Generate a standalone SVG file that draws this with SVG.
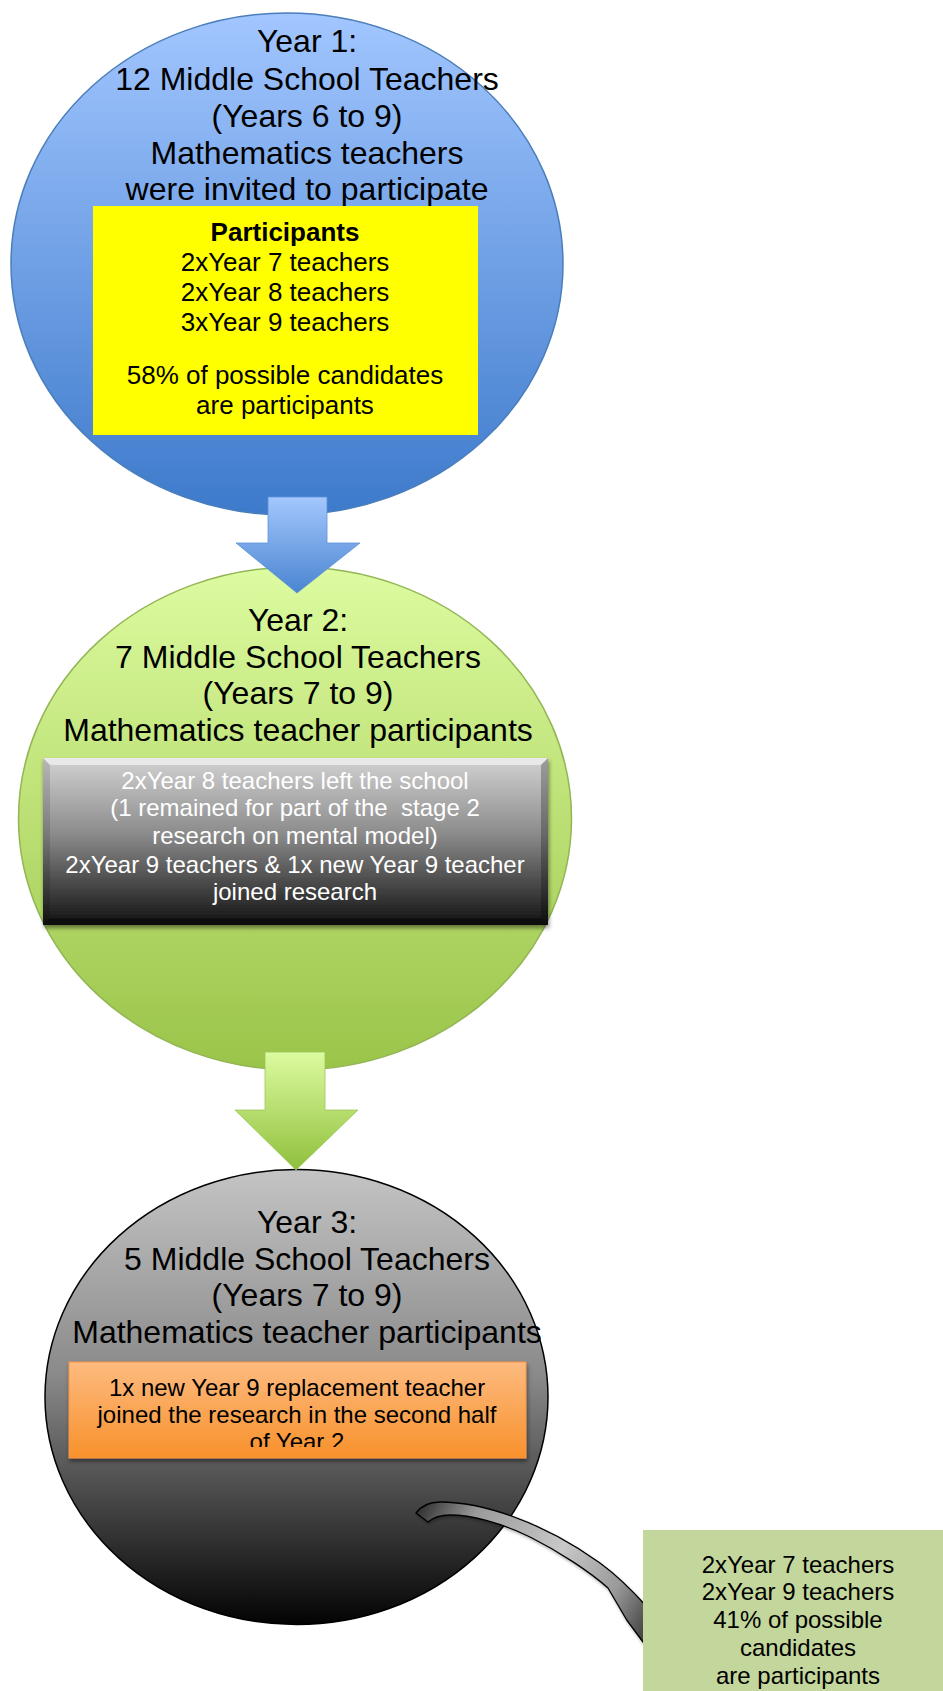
<svg xmlns="http://www.w3.org/2000/svg" width="943" height="1691" viewBox="0 0 943 1691">
<defs>
<style>
text{font-family:"Liberation Sans",Arial,sans-serif;text-anchor:middle}
.t{font-size:32px;fill:#000}
.s{font-size:26px;fill:#000}
.m{font-size:24px}
</style>
<linearGradient id="gBlue" x1="0" y1="0" x2="0" y2="1"><stop offset="0" stop-color="#a2c6ff"/><stop offset="1" stop-color="#3d7acb"/></linearGradient>
<linearGradient id="gGreen" x1="0" y1="0" x2="0" y2="1"><stop offset="0" stop-color="#ddfba0"/><stop offset="1" stop-color="#9ac449"/></linearGradient>
<linearGradient id="gGray" x1="0" y1="0" x2="0" y2="1"><stop offset="0" stop-color="#c4c4c4"/><stop offset="0.45" stop-color="#8a8a8a"/><stop offset="1" stop-color="#030303"/></linearGradient>
<linearGradient id="gBox" x1="0" y1="0" x2="0" y2="1"><stop offset="0" stop-color="#d2d2d2"/><stop offset="0.45" stop-color="#8c8c8c"/><stop offset="1" stop-color="#121212"/></linearGradient>
<linearGradient id="gOrange" x1="0" y1="0" x2="0" y2="1"><stop offset="0" stop-color="#fdbb80"/><stop offset="1" stop-color="#f8912c"/></linearGradient>
<linearGradient id="gArrB" x1="0" y1="0" x2="0" y2="1"><stop offset="0" stop-color="#a3c7fd"/><stop offset="1" stop-color="#4a85d1"/></linearGradient>
<linearGradient id="gArrG" x1="0" y1="0" x2="0" y2="1"><stop offset="0" stop-color="#ddfba0"/><stop offset="1" stop-color="#8fc03c"/></linearGradient>
<linearGradient id="gBand" gradientUnits="userSpaceOnUse" x1="416" y1="1510" x2="648" y2="1640"><stop offset="0" stop-color="#2e2e2e"/><stop offset="0.2" stop-color="#9a9a9a"/><stop offset="0.55" stop-color="#c8c8c8"/><stop offset="0.8" stop-color="#9a9a9a"/><stop offset="1" stop-color="#3a3a3a"/></linearGradient>
<filter id="sh" x="-10%" y="-20%" width="120%" height="150%"><feDropShadow dx="1" dy="3" stdDeviation="2" flood-color="#000" flood-opacity="0.45"/></filter>
<filter id="sh2" x="-10%" y="-20%" width="120%" height="150%"><feDropShadow dx="1" dy="2" stdDeviation="1.5" flood-color="#000" flood-opacity="0.3"/></filter>
<clipPath id="clipO"><rect x="69" y="1362" width="457" height="85"/></clipPath>
</defs>

<g id="year1">
<ellipse cx="287" cy="264" rx="276" ry="251" fill="url(#gBlue)" stroke="#4a7ebb" stroke-width="1.5"/>
<text class="t" x="307" y="52">Year 1:</text>
<text class="t" x="307" y="90">12 Middle School Teachers</text>
<text class="t" x="307" y="127">(Years 6 to 9)</text>
<text class="t" x="307" y="164">Mathematics teachers</text>
<text class="t" x="307" y="200">were invited to participate</text>
</g>
<g id="participants1">
<rect x="93" y="206" width="385" height="229" fill="#ffff00"/>
<text class="s" x="285" y="241" font-weight="bold">Participants</text>
<text class="s" x="285" y="271">2xYear 7 teachers</text>
<text class="s" x="285" y="301">2xYear 8 teachers</text>
<text class="s" x="285" y="331">3xYear 9 teachers</text>
<text class="s" x="285" y="384">58% of possible candidates</text>
<text class="s" x="285" y="414">are participants</text>
</g>

<g id="year2">
<ellipse cx="295" cy="818.5" rx="276.5" ry="251.5" fill="url(#gGreen)" stroke="#93b654" stroke-width="1.5"/>
<text class="t" x="298" y="631">Year 2:</text>
<text class="t" x="298" y="668">7 Middle School Teachers</text>
<text class="t" x="298" y="704">(Years 7 to 9)</text>
<text class="t" x="298" y="741">Mathematics teacher participants</text>
</g>
<g id="changes2">
<rect x="43" y="758" width="505" height="167" fill="url(#gBox)" filter="url(#sh)"/>
<polygon points="43,758 548,758 541,765 50,765" fill="#fff" opacity="0.55"/>
<polygon points="43,758 50,765 50,918 43,925" fill="#000" opacity="0.12"/>
<polygon points="548,758 541,765 541,918 548,925" fill="#000" opacity="0.25"/>
<polygon points="43,925 50,918 541,918 548,925" fill="#000" opacity="0.4"/>
<g class="m" fill="#fff">
<text x="295" y="789">2xYear 8 teachers left the school</text>
<text x="295" y="816" style="white-space:pre">(1 remained for part of the  stage 2</text>
<text x="295" y="844">research on mental model)</text>
<text x="295" y="873">2xYear 9 teachers &amp; 1x new Year 9 teacher</text>
<text x="295" y="900">joined research</text>
</g>
</g>

<g id="year3">
<ellipse cx="296.5" cy="1397" rx="251.5" ry="227.5" fill="url(#gGray)" stroke="#000" stroke-width="1.5"/>
<text class="t" x="307" y="1233">Year 3:</text>
<text class="t" x="307" y="1270">5 Middle School Teachers</text>
<text class="t" x="307" y="1306">(Years 7 to 9)</text>
<text class="t" x="307" y="1343">Mathematics teacher participants</text>
</g>
<g id="replacement3">
<rect x="69" y="1362" width="457" height="96" fill="url(#gOrange)" stroke="#f79646" stroke-width="1" filter="url(#sh)"/>
<g class="m" fill="#000" clip-path="url(#clipO)">
<text x="297" y="1396">1x new Year 9 replacement teacher</text>
<text x="297" y="1423">joined the research in the second half</text>
<text x="297" y="1450">of Year 2</text>
</g>
</g>

<g id="connectors">
<polygon points="268,497 327,497 327,543 360,543 297,593 236,543 268,543" fill="url(#gArrB)" stroke="#5e93d8" stroke-width="0.8"/>
<polygon points="265,1052 325,1052 325,1110 358,1110 296,1170 235,1110 265,1110" fill="url(#gArrG)" stroke="#9cc65a" stroke-width="0.8"/>
<path d="M 416 1513 C 422 1505, 430 1502, 440 1502 C 480 1502, 540 1520, 600 1563 C 615 1574, 632 1590, 648 1608 L 648 1648 L 643 1642 L 626.7 1620 L 608 1588 C 590 1572, 560 1552, 530 1537 C 500 1522, 470 1515, 450 1515 C 440 1515, 434 1517, 428 1522 Z" fill="url(#gBand)" stroke="#000" stroke-width="1.3" stroke-linejoin="round" filter="url(#sh2)"/>
</g>

<g id="summary3">
<rect x="643" y="1530" width="300" height="161" fill="#c3d69b"/>
<g class="m" fill="#000">
<text x="798" y="1573">2xYear 7 teachers</text>
<text x="798" y="1600">2xYear 9 teachers</text>
<text x="798" y="1628">41% of possible</text>
<text x="798" y="1656">candidates</text>
<text x="798" y="1684">are participants</text>
</g>
</g>
</svg>
